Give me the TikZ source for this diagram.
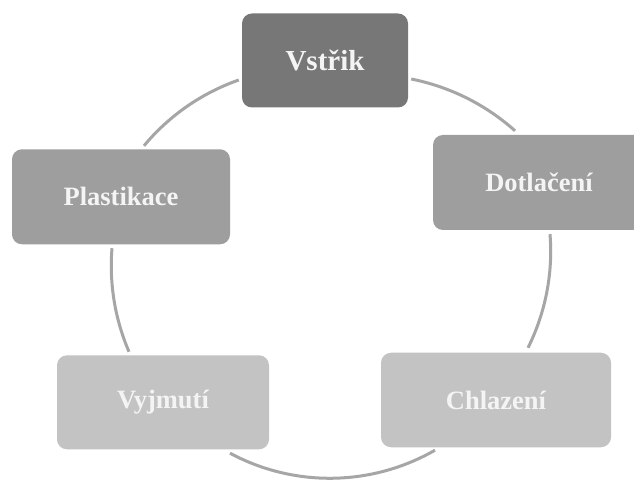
\documentclass[tikz,border=0pt]{standalone}
\usepackage{fontspec}
\setmainfont{Liberation Serif}
\definecolor{boxdark}{HTML}{777777}
\definecolor{boxmid}{HTML}{9E9E9E}
\definecolor{boxlight}{HTML}{C3C3C3}
\definecolor{arcgray}{HTML}{A6A6A6}
\definecolor{txtwhite}{HTML}{F4F4F4}
\tikzset{
  stagebox/.style={rounded corners=10pt, inner sep=0pt, align=center,
    text=txtwhite, font=\bfseries\fontsize{26.5}{28}\selectfont},
  cyclearc/.style={draw=arcgray, line width=3pt, looseness=0.87},
}
\begin{document}
\begin{tikzpicture}[x=1pt,y=1pt]
\useasboundingbox (0,0) rectangle (634,479);
\fill[white] (0,0) rectangle (634,479);
\clip (0,0) rectangle (634,479);
% stages
\node[stagebox, fill=boxdark, minimum width=166pt, minimum height=94pt,
      font=\bfseries\fontsize{29}{30}\selectfont] (vs) at (325,418.5) {Vstřik};
\node[stagebox, fill=boxmid, minimum width=212pt, minimum height=95pt] (dot) at (539,296.5) {Dotlačení};
\node[stagebox, fill=boxlight, minimum width=230pt, minimum height=94.5pt] (chl) at (496,79) {Chlazení};
\node[stagebox, fill=boxlight, minimum width=212pt, minimum height=94pt] (vy) at (163,76.7) {Vyjmutí};
\node[stagebox, fill=boxmid, minimum width=218pt, minimum height=95pt] (pl) at (121,282.2) {Plastikace};
% cycle arcs
\draw[cyclearc] ([shift={(3,-18.5)}]vs.east) to[out=-11.4, in=138.2] ([shift={(-24,4)}]dot.north);
\draw[cyclearc] ([shift={(11,-4)}]dot.south) to[out=-85.4, in=63.6] ([shift={(32,4.75)}]chl.north);
\draw[cyclearc, looseness=0.91] ([shift={(-61,-2.75)}]chl.south) to[out=209.8, in=-28.2] ([shift={(67,-3.7)}]vy.south);
\draw[cyclearc] ([shift={(-34,3.3)}]vy.north) to[out=113.2, in=-94.6] ([shift={(-9,-3.7)}]pl.south);
\draw[cyclearc] ([shift={(23,3.3)}]pl.north) to[out=50.3, in=199.3] ([shift={(-3,-19.5)}]vs.west);
\end{tikzpicture}
\end{document}
